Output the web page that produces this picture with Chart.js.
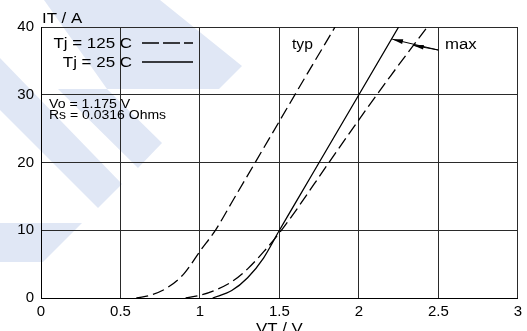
<!DOCTYPE html>
<html>
<head>
<meta charset="utf-8">
<script src="https://cdn.jsdelivr.net/npm/chart.js@4"></script>
<style>
  html, body { margin: 0; padding: 0; background: #fff; }
  #wrap { width: 527px; height: 331px; }
</style>
</head>
<body>
<div id="wrap"><canvas id="vtChart" width="527" height="331"></canvas></div>
<script>
// Durchlasskennlinie IT = f(VT)
const xTicks = [0, 0.5, 1, 1.5, 2, 2.5, 3];
const yTicks = [0, 10, 20, 30, 40];

// Tj = 125 C, typ
const vTyp125 = [0.6, 0.7, 0.8, 0.9, 1.0, 1.1, 1.2, 1.35, 1.5, 1.65, 1.85];
const iTyp125 = [0, 0.5, 1.6, 3.6, 6.9, 10.1, 14.1, 20.1, 26.1, 32.1, 40];
// Tj = 125 C, max
const vMax125 = [0.91, 1.0, 1.1, 1.2, 1.3, 1.4, 1.5, 1.6, 1.8, 2.0, 2.2, 2.43];
const iMax125 = [0, 0.4, 1.2, 2.4, 4.3, 6.8, 9.6, 12.8, 19.6, 26.3, 32.8, 40];
// Tj = 25 C
const v25 = [1.08, 1.2, 1.3, 1.4, 1.5, 1.6, 1.75, 2.0, 2.25];
const i25 = [0, 1.1, 3.0, 5.9, 10, 14, 20, 30, 40];

const legendLabels = ['Tj = 125 C', 'Tj = 25 C'];
const noteLines = ['Vo = 1.175 V', 'Rs = 0.0316 Ohms'];

const FONT = '"Liberation Sans", Arial, sans-serif';
const DASH = [12, 5];

function pts(xs, ys) {
    return xs.map((x, i) => ({ x: x, y: ys[i] }));
}

// Text leicht in die Breite gezogen, wie im Original
function label(ctx, str, x, y, size, align, sx) {
    ctx.save();
    ctx.translate(x, y);
    ctx.scale(sx, 1);
    ctx.font = size + 'px ' + FONT;
    ctx.textAlign = align;
    ctx.textBaseline = 'alphabetic';
    ctx.fillText(str, 0, 0);
    ctx.restore();
}

// blasses Wasserzeichen im Hintergrund
const watermark = {
    id: 'watermark',
    beforeDraw(chart) {
        const ctx = chart.ctx;
        ctx.save();
        ctx.fillStyle = 'rgb(224,231,245)';
        const shapes = [
            [[44, 0], [160, 0], [242, 66], [219, 89], [107, 89]],
            [[58, 89], [107, 89], [162, 143], [138, 168]],
            [[0, 58], [0, 110], [98, 208], [122, 184]],
            [[0, 223], [82, 223], [43, 262], [0, 262]]
        ];
        shapes.forEach(s => {
            ctx.beginPath();
            s.forEach((p, i) => i ? ctx.lineTo(p[0], p[1]) : ctx.moveTo(p[0], p[1]));
            ctx.closePath();
            ctx.fill();
        });
        ctx.restore();
    }
};

function arrow(ctx, x0, y0, x1, y1) {
    const a = Math.atan2(y1 - y0, x1 - x0);
    ctx.beginPath();
    ctx.moveTo(x0, y0);
    ctx.lineTo(x1, y1);
    ctx.stroke();
    ctx.beginPath();
    ctx.moveTo(x1, y1);
    ctx.lineTo(x1 - 11 * Math.cos(a - 0.22), y1 - 11 * Math.sin(a - 0.22));
    ctx.lineTo(x1 - 11 * Math.cos(a + 0.22), y1 - 11 * Math.sin(a + 0.22));
    ctx.closePath();
    ctx.fill();
}

const annotations = {
    id: 'annotations',
    afterDraw(chart) {
        const ctx = chart.ctx;
        const xs = chart.scales.x, ys = chart.scales.y;
        const area = chart.chartArea;
        ctx.save();
        ctx.fillStyle = '#000';
        ctx.strokeStyle = '#000';

        // Achsentitel
        label(ctx, 'IT / A', 42, 23, 14, 'left', 1.2);
        label(ctx, 'VT / V', (area.left + area.right) / 2, 333, 14, 'center', 1.2);

        // Legende
        label(ctx, legendLabels[0], 132, 48, 14, 'right', 1.21);
        label(ctx, legendLabels[1], 132, 67, 14, 'right', 1.21);
        ctx.lineWidth = 1.3;
        ctx.setLineDash([17, 4]);
        ctx.beginPath(); ctx.moveTo(142, 43); ctx.lineTo(193, 43); ctx.stroke();
        ctx.setLineDash([]);
        ctx.beginPath(); ctx.moveTo(142, 62); ctx.lineTo(193, 62); ctx.stroke();

        // Kennwerte
        label(ctx, noteLines[0], 49, 108, 12.5, 'left', 1.13);
        label(ctx, noteLines[1], 49, 119, 12.5, 'left', 1.12);

        // typ / max
        label(ctx, 'typ', 292, 49, 14, 'left', 1.12);
        label(ctx, 'max', 445, 49, 14, 'left', 1.2);

        ctx.lineWidth = 1;
        const tx = xs.getPixelForValue(2.5), ty = ys.getPixelForValue(36.6);
        arrow(ctx, tx, ty, xs.getPixelForValue(2.21), ys.getPixelForValue(38.2));
        arrow(ctx, tx, ty, xs.getPixelForValue(2.34), ys.getPixelForValue(37.3));
        ctx.restore();
    }
};

new Chart(document.getElementById('vtChart'), {
    type: 'scatter',
    data: {
        datasets: [
            {
                label: legendLabels[0] + ' typ',
                data: pts(vTyp125, iTyp125),
                borderDash: DASH
            },
            {
                label: legendLabels[0] + ' max',
                data: pts(vMax125, iMax125),
                borderDash: DASH
            },
            {
                label: legendLabels[1],
                data: pts(v25, i25)
            }
        ]
    },
    options: {
        responsive: false,
        animation: false,
        showLine: true,
        layout: { padding: { top: 27, right: 5, left: 0, bottom: 0 } },
        elements: {
            point: { radius: 0 },
            line: { borderColor: '#000', borderWidth: 1.3, cubicInterpolationMode: 'monotone', fill: false }
        },
        plugins: {
            legend: { display: false },
            tooltip: { enabled: false }
        },
        scales: {
            x: {
                type: 'linear',
                min: 0, max: 3,
                afterFit: s => { s.height = 33; },
                afterBuildTicks: s => { s.ticks = xTicks.map(v => ({ value: v })); },
                grid: { color: '#2a2a2a', lineWidth: 1, drawTicks: false },
                border: { color: '#000', width: 1 },
                ticks: {
                    color: '#000', padding: 5,
                    font: { family: FONT, size: 15 },
                    maxRotation: 0,
                    callback: v => String(v)
                }
            },
            y: {
                type: 'linear',
                min: 0, max: 40,
                afterFit: s => { s.width = 41; },
                afterBuildTicks: s => { s.ticks = yTicks.map(v => ({ value: v })); },
                grid: { color: '#2a2a2a', lineWidth: 1, drawTicks: false },
                border: { color: '#000', width: 1 },
                ticks: {
                    color: '#000', padding: 7,
                    font: { family: FONT, size: 15 },
                    callback: v => String(v)
                }
            }
        }
    },
    plugins: [watermark, annotations]
});
</script>
</body>
</html>
